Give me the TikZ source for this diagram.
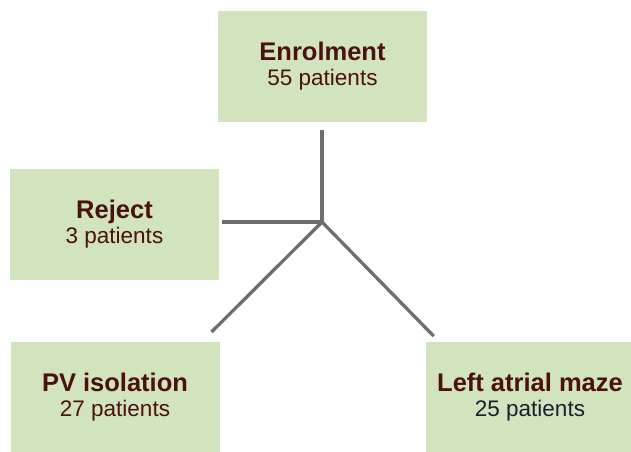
\documentclass[tikz,border=0pt]{standalone}
\usepackage{fontspec}
\setmainfont{Liberation Sans}
\usetikzlibrary{positioning, calc}

\definecolor{boxgreen}{HTML}{D1E4BD}
\definecolor{txtbrown}{HTML}{4B1010}
\definecolor{txtnavy}{HTML}{1A1F2E}
\definecolor{linegray}{HTML}{6E6E6E}

\newcommand{\grouptitle}[1]{{\fontsize{25.5}{25}\selectfont\bfseries #1}}

\begin{document}
\begin{tikzpicture}[
  x=1pt, y=-1pt,
  every node/.style={font=\fontsize{22.5}{25}\selectfont, text=txtbrown},
  group/.style  ={rectangle, fill=boxgreen, align=center, inner sep=0pt,
                  minimum width=209pt, minimum height=111pt},
  link/.style   ={draw=linegray, line width=3.3pt},
]

%% ---- canvas ----
\useasboundingbox (0,0) rectangle (631,451);

%% ---- boxes ----
\node[group] (enrol)  at (322.5, 66.5) {\grouptitle{Enrolment}\\55 patients};
\node[group] (reject) at (114.5,224.0) {\grouptitle{Reject}\\3 patients};
\node[group] (pv)     at (115.0,397.5) {\grouptitle{PV isolation}\\27 patients};
\node[group] (maze)   at (530.0,397.5)
  {\grouptitle{Left atrial maze}\\\textcolor{txtnavy}{25 patients}};

%% ---- branching point ----
\coordinate (hub) at (322,222);

%% ---- connectors ----
\draw[link, shorten <=8pt] (enrol.south -| hub) -- (hub);
\draw[link, shorten >=3pt] (hub) -- (reject.east |- hub);
\draw[link, shorten >=14pt] (hub) -- ($(pv.north east)+(-18,0)$);
\draw[link, shorten >=8pt]  (hub) -- ($(maze.north west)+(14,0)$);

\end{tikzpicture}
\end{document}
